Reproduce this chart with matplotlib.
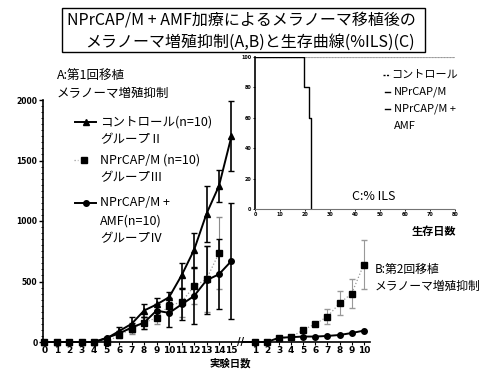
import numpy as np
import matplotlib
matplotlib.use('Agg')
import matplotlib.pyplot as plt
from matplotlib.lines import Line2D
from matplotlib.patches import Rectangle

plt.rcParams['font.family'] = ['Noto Sans CJK JP', 'DejaVu Sans']

# --- A: first transplant (days 0-15)
days_a = np.arange(0, 16)
ctrl_a = [0, 0, 0, 0, 0, 30, 90, 150, 260, 310, 370, 550, 760, 1060, 1290, 1700]
ctrl_a_err = [0, 0, 0, 0, 0, 10, 30, 60, 50, 50, 40, 100, 140, 230, 130, 290]
npr_days_a = np.arange(0, 15)
npr_a = [0, 0, 0, 0, 0, 0, 55, 110, 160, 200, 300, 330, 460, 520, 735]
npr_a_err = [0, 0, 0, 0, 0, 10, 20, 40, 50, 50, 60, 120, 150, 270, 300]
amf_a = [0, 0, 0, 0, 0, 35, 70, 120, 160, 260, 240, 310, 380, 510, 560, 670]
amf_a_err = [0, 0, 0, 0, 0, 10, 20, 40, 50, 50, 120, 130, 230, 280, 290, 480]

# --- B: second transplant (days 0-10)
days_b = np.arange(0, 11)
npr_b = [0, 0, 0, 30, 40, 100, 150, 210, 320, 400, 640]
npr_b_err = [0, 0, 0, 0, 0, 0, 0, 60, 100, 120, 200]
amf_b = [0, 0, 0, 35, 40, 45, 45, 50, 58, 74, 94]

# --- C: survival (%)
surv_t_ctrl = [0, 19.5, 21.5, 22.5]
surv_ctrl = [100, 80, 60, 0]
surv_t_other = [0, 80]
surv_npr = [100, 100]
surv_amf = [100, 100]

W, H = 486, 372
B_OFF, B_STEP = 15.9, 0.97


def fx(x):
    return x / W


def fy(y):
    return 1 - y / H


def errs(ax, x, y, e, **kw):
    x = np.asarray(x, float)
    y = np.asarray(y, float)
    e = np.asarray(e, float)
    m = e > 0
    ax.errorbar(x[m], y[m], yerr=e[m], fmt='none', capsize=2, **kw)


fig = plt.figure(figsize=(W / 100, H / 100), dpi=100)

ax = fig.add_axes([fx(43), fy(342), 327 / W, 242 / H])
xb = B_OFF + B_STEP * days_b

# errorbars
errs(ax, npr_days_a, npr_a, npr_a_err, ecolor='0.55', elinewidth=0.8,
     linestyle=':')
errs(ax, xb, npr_b, npr_b_err, ecolor='0.6', elinewidth=0.8)
errs(ax, days_a, ctrl_a, ctrl_a_err, ecolor='k', elinewidth=1.2)
errs(ax, days_a, amf_a, amf_a_err, ecolor='k', elinewidth=1.2)

# NPrCAP/M squares with faint dotted line
ax.plot(npr_days_a, npr_a, ':', color='0.6', lw=0.9, zorder=2)
ax.plot(npr_days_a, npr_a, 's', color='k', ms=5, zorder=3, clip_on=False)
ax.plot(xb[1:], npr_b[1:], ':', color='0.6', lw=0.9, zorder=2)
ax.plot(xb[1:], npr_b[1:], 's', color='k', ms=5, zorder=3, clip_on=False)

# control
ax.plot(days_a, ctrl_a, '-^', color='k', lw=1.4, ms=4.5, zorder=4,
        clip_on=False)
# NPrCAP/M + AMF
ax.plot(days_a, amf_a, '-o', color='k', lw=1.4, ms=4, zorder=4,
        clip_on=False)
ax.plot(xb, amf_b, '-o', color='k', lw=1.4, ms=4, zorder=4,
        markevery=slice(1, None), clip_on=False)

ax.set_xlim(-0.1, 26.1)
ax.set_ylim(0, 2000)
ax.spines['top'].set_visible(False)
ax.spines['right'].set_visible(False)
ax.spines['left'].set_linewidth(1.2)
ax.spines['bottom'].set_linewidth(1.2)
ax.set_yticks([0, 500, 1000, 1500, 2000])
ax.set_yticks(np.arange(0, 2001, 50), minor=True)
ax.tick_params(axis='y', which='major', length=3, width=1, pad=1)
ax.tick_params(axis='y', which='minor', length=1.5, width=0.6)
xt = list(days_a) + list(xb[1:])
xl = ['%d' % d for d in days_a] + ['%d' % d for d in days_b[1:]]
ax.set_xticks(xt)
ax.set_xticklabels(xl)
ax.tick_params(axis='x', length=2, width=0.8, pad=1)
for lab in ax.get_xticklabels() + ax.get_yticklabels():
    lab.set_fontfamily('DejaVu Sans')
    lab.set_fontweight('bold')
for lab in ax.get_xticklabels():
    lab.set_fontsize(6.5)
for lab in ax.get_yticklabels():
    lab.set_fontsize(5.5)
ax.text(15.75, 0, '//', ha='center', va='center', fontsize=7,
        fontweight='bold', family='DejaVu Sans', clip_on=False, zorder=5)

# inset C
ax2 = fig.add_axes([fx(255), fy(209), 200 / W, 152 / H])
ax2.plot(surv_t_other, surv_npr, '-', color='0.7', lw=0.8)
ax2.plot(surv_t_other, surv_amf, ':', color='0.6', lw=0.8)
ax2.step(surv_t_ctrl, surv_ctrl, where='post', color='k', lw=1.0)
ax2.set_xlim(0, 80)
ax2.set_ylim(0, 100)
ax2.spines['top'].set_visible(False)
ax2.spines['right'].set_visible(False)
ax2.spines['left'].set_linewidth(1.2)
ax2.spines['bottom'].set_color('0.45')
ax2.spines['bottom'].set_linestyle((0, (2, 1)))
ax2.set_xticks(np.arange(0, 81, 10))
ax2.set_yticks(np.arange(0, 101, 20))
ax2.tick_params(length=1.5, width=0.6, pad=1, labelsize=3.5)
for lab in ax2.get_xticklabels() + ax2.get_yticklabels():
    lab.set_fontfamily('DejaVu Sans')
    lab.set_fontweight('bold')

# title box
fig.add_artist(Rectangle((fx(62), fy(52)), 363 / W, 44 / H, fill=False,
                         lw=1.0, ec='k', transform=fig.transFigure))
fig.text(fx(67), fy(20), 'NPrCAP/M + AMF加療によるメラノーマ移植後の',
         fontsize=11.5, va='center', ha='left')
fig.text(fx(85), fy(42), 'メラノーマ増殖抑制(A,B)と生存曲線(%ILS)(C)',
         fontsize=11.5, va='center', ha='left')

# A label
fig.text(fx(57), fy(75), 'A:第1回移植', fontsize=9, va='center')
fig.text(fx(57), fy(93), 'メラノーマ増殖抑制', fontsize=9, va='center')

# legend A
fig.add_artist(Line2D([fx(75), fx(96)], [fy(122), fy(122)], color='k',
                      lw=1.4, marker='^', ms=4.5, markevery=[],
                      transform=fig.transFigure))
fig.add_artist(Line2D([fx(86)], [fy(122)], color='k', marker='^', ms=4.5,
                      transform=fig.transFigure))
fig.text(fx(100), fy(122), 'コントロール(n=10)', fontsize=9, va='center')
fig.text(fx(100), fy(140), 'グループⅡ', fontsize=9, va='center')

fig.add_artist(Line2D([fx(74), fx(78)], [fy(160), fy(160)], color='0.6',
                      lw=0.9, ls=':', transform=fig.transFigure))
fig.add_artist(Line2D([fx(84)], [fy(160)], color='k', marker='s', ms=5,
                      transform=fig.transFigure))
fig.text(fx(100), fy(160), 'NPrCAP/M (n=10)', fontsize=9, va='center')
fig.text(fx(100), fy(178), 'グループⅢ', fontsize=9, va='center')

fig.add_artist(Line2D([fx(75), fx(96)], [fy(203), fy(203)], color='k',
                      lw=1.4, transform=fig.transFigure))
fig.add_artist(Line2D([fx(86)], [fy(203)], color='k', marker='o', ms=4,
                      transform=fig.transFigure))
fig.text(fx(100), fy(203), 'NPrCAP/M +', fontsize=9, va='center')
fig.text(fx(100), fy(221), 'AMF(n=10)', fontsize=9, va='center')
fig.text(fx(100), fy(239), 'グループⅣ', fontsize=9, va='center')

# legend C
fig.add_artist(Line2D([fx(383), fx(390)], [fy(75), fy(75)], color='k',
                      lw=1.0, ls=(0, (1.5, 1)), transform=fig.transFigure))
fig.text(fx(391), fy(75), 'コントロール', fontsize=8, va='center')
fig.add_artist(Line2D([fx(385), fx(390)], [fy(92), fy(92)], color='k',
                      lw=1.0, transform=fig.transFigure))
fig.text(fx(394), fy(92), 'NPrCAP/M', fontsize=8, va='center')
fig.add_artist(Line2D([fx(385), fx(390)], [fy(109), fy(109)], color='k',
                      lw=1.0, transform=fig.transFigure))
fig.text(fx(394), fy(109), 'NPrCAP/M +', fontsize=8, va='center')
fig.text(fx(394), fy(126), 'AMF', fontsize=8, va='center')
fig.text(fx(352), fy(196), 'C:% ILS', fontsize=9, va='center')
fig.text(fx(412), fy(231), '生存日数', fontsize=8, va='center',
         fontweight='bold')

# B label and x label
fig.text(fx(375), fy(269), 'B:第2回移植', fontsize=8.5, va='center')
fig.text(fx(375), fy(286), 'メラノーマ増殖抑制', fontsize=8.5, va='center')
fig.text(fx(210), fy(363), '実験日数', fontsize=7.5, va='center',
         fontweight='bold')

fig.savefig('out.png', dpi=100)
